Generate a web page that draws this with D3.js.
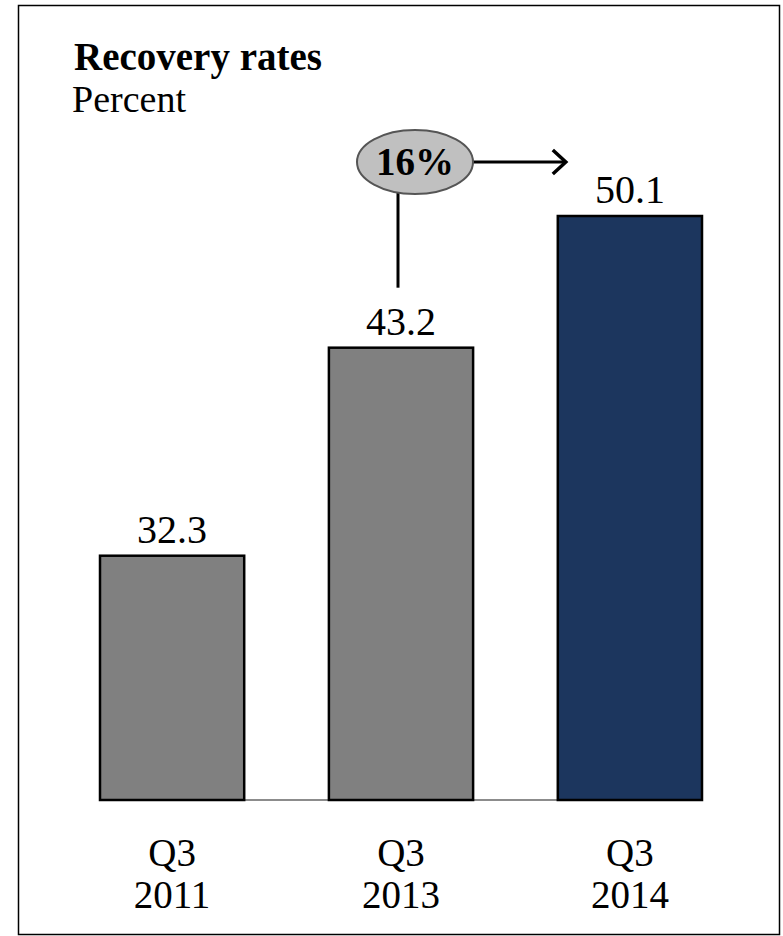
<!DOCTYPE html>
<html>
<head>
<meta charset="utf-8">
<script src="https://cdn.jsdelivr.net/npm/d3@7"></script>
<style>
  body { margin: 0; background: #fff; }
  text { font-family: "Liberation Serif", "Times New Roman", serif; }
</style>
</head>
<body>
<svg width="783" height="936"></svg>
<script>
// chart data
var categories = ["Q3 2011", "Q3 2013", "Q3 2014"];
var rates = [32.3, 43.2, 50.1];
var barColors = ["#808080", "#808080", "#1c365e"];
var changeLabel = "16%";

var svg = d3.select("svg"),
    baseY = 800;

// frame
svg.append("rect")
    .attr("x", 18.5).attr("y", 5.5)
    .attr("width", 761).attr("height", 929)
    .attr("fill", "none").attr("stroke", "#000").attr("stroke-width", 1.5);

// title
svg.append("text")
    .attr("x", 74).attr("y", 70)
    .attr("font-size", 39).attr("font-weight", "bold")
    .text("Recovery rates");
svg.append("text")
    .attr("x", 72).attr("y", 112)
    .attr("font-size", 38)
    .text("Percent");

var xScale = d3.scaleBand()
    .domain(categories)
    .range([100, 702])
    .paddingInner(0.37)
    .paddingOuter(0);

// the original bars are not drawn from zero, so the axis starts above it
var yScale = d3.scaleLinear()
    .domain([19.5, 50.1])
    .range([baseY, 216]);

var data = categories.map(function(c, i) {
    return {cat: c, value: rates[i], color: barColors[i]};
});

// baseline
svg.append("line")
    .attr("x1", xScale.range()[0]).attr("x2", xScale.range()[1])
    .attr("y1", baseY).attr("y2", baseY)
    .attr("stroke", "#8c8c8c").attr("stroke-width", 2);

svg.selectAll(".bar")
    .data(data)
    .enter().append("rect")
    .attr("class", "bar")
    .attr("x", function(d) { return xScale(d.cat); })
    .attr("y", function(d) { return yScale(d.value); })
    .attr("width", xScale.bandwidth())
    .attr("height", function(d) { return baseY - yScale(d.value); })
    .attr("fill", function(d) { return d.color; })
    .attr("stroke", "#000")
    .attr("stroke-width", 2.5);

svg.selectAll(".val")
    .data(data)
    .enter().append("text")
    .attr("class", "val")
    .attr("x", function(d) { return xScale(d.cat) + xScale.bandwidth() / 2; })
    .attr("y", function(d) { return yScale(d.value) - 13; })
    .attr("text-anchor", "middle")
    .attr("font-size", 40)
    .text(function(d) { return d.value.toFixed(1); });

// x axis, two line labels
var axis = svg.append("g")
    .attr("transform", "translate(0," + baseY + ")")
    .call(d3.axisBottom(xScale).tickSize(0).tickFormat(""));
axis.select(".domain").remove();
axis.selectAll(".tick").each(function(d) {
    var parts = d.split(" ");
    var t = d3.select(this).append("text")
        .attr("fill", "#000")
        .attr("font-size", 39)
        .attr("text-anchor", "middle");
    t.append("tspan").attr("x", 0).attr("y", 66).text(parts[0]);
    t.append("tspan").attr("x", 0).attr("y", 108).text(parts[1]);
});

// growth annotation
var mid = xScale(categories[1]) + xScale.bandwidth() / 2,
    cx = mid + 14, cy = 162, rx = 58, ry = 32;
var lineX = mid - 3;
var lineTop = cy + ry * Math.sqrt(1 - Math.pow((lineX - cx) / rx, 2));

svg.append("line")
    .attr("x1", lineX).attr("x2", lineX)
    .attr("y1", lineTop).attr("y2", yScale(rates[1]) - 60)
    .attr("stroke", "#000").attr("stroke-width", 3);

var arrowEnd = xScale(categories[2]) + 8;
svg.append("line")
    .attr("x1", cx + rx).attr("x2", arrowEnd)
    .attr("y1", cy).attr("y2", cy)
    .attr("stroke", "#000").attr("stroke-width", 3);
svg.append("path")
    .attr("d", d3.line()([[arrowEnd - 13, cy - 12], [arrowEnd, cy], [arrowEnd - 13, cy + 12]]))
    .attr("fill", "none").attr("stroke", "#000").attr("stroke-width", 3.5);

svg.append("ellipse")
    .attr("cx", cx).attr("cy", cy)
    .attr("rx", rx).attr("ry", ry)
    .attr("fill", "#c0c0c0").attr("stroke", "#555").attr("stroke-width", 2);
svg.append("text")
    .attr("x", cx).attr("y", cy + 13)
    .attr("text-anchor", "middle")
    .attr("font-size", 39).attr("font-weight", "bold")
    .text(changeLabel);
</script>
</body>
</html>
